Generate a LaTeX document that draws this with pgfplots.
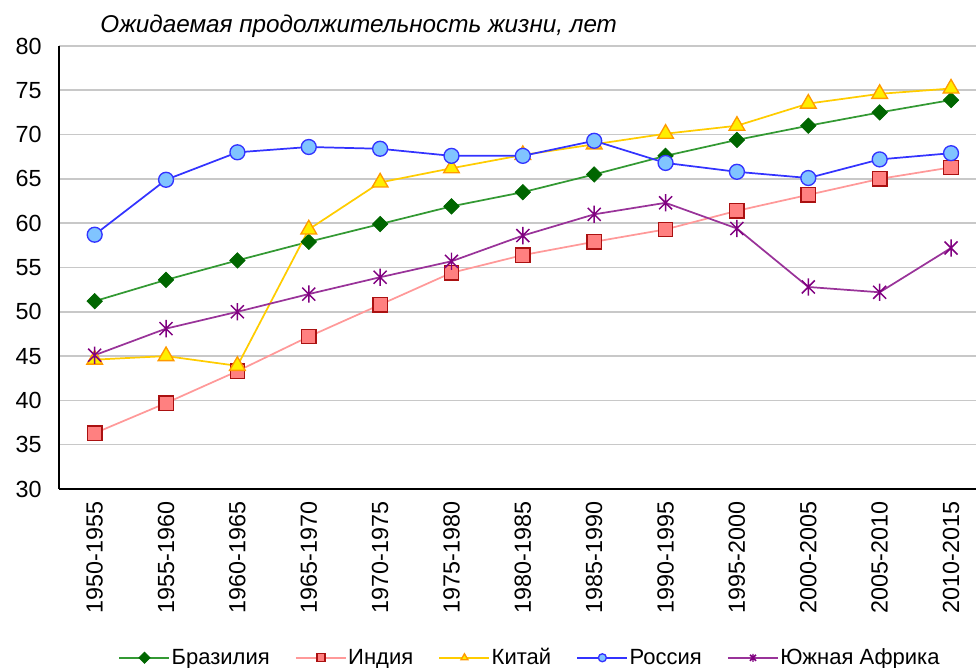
\documentclass[border=0pt]{standalone}
\usepackage{fontspec}
\setmainfont{Liberation Sans}
\usepackage{pgfplots}
\pgfplotsset{compat=1.18}

\definecolor{brline}{HTML}{339933}
\definecolor{brmark}{HTML}{006600}
\definecolor{inline}{HTML}{FF9999}
\definecolor{inmark}{HTML}{FF8080}
\definecolor{inedge}{HTML}{AA1111}
\definecolor{chline}{HTML}{FFCC00}
\definecolor{chmark}{HTML}{FFEE00}
\definecolor{chedge}{HTML}{FF9900}
\definecolor{ruline}{HTML}{3333FF}
\definecolor{rumark}{HTML}{80C4FF}
\definecolor{saline}{HTML}{993399}
\definecolor{samark}{HTML}{800080}
\definecolor{gridc}{HTML}{C8C8C8}

% star like vertical line plus an X
\pgfdeclareplotmark{xstar}{%
  \pgfpathmoveto{\pgfqpoint{0pt}{\pgfplotmarksize}}%
  \pgfpathlineto{\pgfqpoint{0pt}{-\pgfplotmarksize}}%
  \pgfpathmoveto{\pgfqpoint{-.75\pgfplotmarksize}{.75\pgfplotmarksize}}%
  \pgfpathlineto{\pgfqpoint{.75\pgfplotmarksize}{-.75\pgfplotmarksize}}%
  \pgfpathmoveto{\pgfqpoint{-.75\pgfplotmarksize}{-.75\pgfplotmarksize}}%
  \pgfpathlineto{\pgfqpoint{.75\pgfplotmarksize}{.75\pgfplotmarksize}}%
  \pgfusepathqstroke}

\begin{document}
\begin{tikzpicture}
\begin{axis}[
  name=ax,
  scale only axis,
  width=687.75pt,
  height=332.25pt,
  xmin=-0.5, xmax=12.35,
  ymin=30, ymax=80,
  ytick={30,35,...,80},
  xtick={0,...,12},
  xticklabels={1950-1955,1955-1960,1960-1965,1965-1970,1970-1975,1975-1980,1980-1985,1985-1990,1990-1995,1995-2000,2000-2005,2005-2010,2010-2015},
  axis x line*=bottom,
  axis y line*=left,
  axis line style={-, black, line width=1.4pt},
  major tick length=0pt,
  ymajorgrids,
  grid style={gridc, line width=1.2pt},
  /pgf/number format/assume math mode=true,
  tick label style={font=\fontsize{17.5}{20}\selectfont, black},
  yticklabel style={anchor=east, xshift=-9.5pt},
  xticklabel style={rotate=90, anchor=east, xshift=-6pt},
  legend columns=-1,
  legend style={at={(0.514,-0.381)}, anchor=center, draw=none, fill=none,
    font=\fontsize{16.5}{18}\selectfont,
    /tikz/every odd column/.append style={column sep=-1pt},
    /tikz/every even column/.append style={column sep=17pt}},
  legend image code/.code={%
    \draw[mark repeat=2,mark phase=2,#1,mark size=3pt] plot coordinates {(0cm,0cm) (0.66cm,0cm) (1.32cm,0cm)};},
  every axis plot/.append style={line width=1.3pt},
]
% Бразилия
\addplot[brline, mark=square*, mark size=4.1pt,
  mark options={rotate=45, fill=brmark, draw=brmark, line width=0.5pt}] coordinates {
  (0,51.2) (1,53.6) (2,55.8) (3,57.9) (4,59.9) (5,61.9) (6,63.5)
  (7,65.5) (8,67.6) (9,69.4) (10,71.0) (11,72.5) (12,73.9)
};
\addlegendentry{Бразилия}
% Индия
\addplot[inline, mark=square*, mark size=5.4pt,
  mark options={fill=inmark, draw=inedge, line width=1pt}] coordinates {
  (0,36.3) (1,39.7) (2,43.3) (3,47.2) (4,50.8) (5,54.4) (6,56.4)
  (7,57.9) (8,59.3) (9,61.4) (10,63.2) (11,65.0) (12,66.3)
};
\addlegendentry{Индия}
% Китай
\addplot[chline, mark=triangle*, mark size=6.8pt,
  mark options={fill=chmark, draw=chedge, line width=1pt}] coordinates {
  (0,44.6) (1,45.0) (2,43.9) (3,59.3) (4,64.6) (5,66.2) (6,67.7)
  (7,68.9) (8,70.1) (9,71.0) (10,73.5) (11,74.6) (12,75.2)
};
\addlegendentry{Китай}
% Россия
\addplot[ruline, mark=*, mark size=5.6pt,
  mark options={fill=rumark, draw=ruline, line width=1pt}] coordinates {
  (0,58.7) (1,64.9) (2,68.0) (3,68.6) (4,68.4) (5,67.6) (6,67.6)
  (7,69.3) (8,66.8) (9,65.8) (10,65.1) (11,67.2) (12,67.9)
};
\addlegendentry{Россия}
% Южная Африка
\addplot[saline, mark=xstar, mark size=6.5pt,
  mark options={draw=samark, line width=1.1pt}] coordinates {
  (0,45.1) (1,48.1) (2,50.0) (3,52.0) (4,53.9) (5,55.7) (6,58.6)
  (7,61.0) (8,62.3) (9,59.4) (10,52.8) (11,52.2) (12,57.2)
};
\addlegendentry{Южная Африка}
\end{axis}
\node[anchor=base west, font=\itshape\fontsize{18.2}{20}\selectfont]
  at ([shift={(27.5pt,9.75pt)}]ax.north west) {Ожидаемая продолжительность жизни, лет};
\pgfresetboundingbox
\path[use as bounding box] ([shift={(-44.25pt,-134.25pt)}]ax.south west)
  rectangle ([shift={(0pt,34.5pt)}]ax.north east);
\end{tikzpicture}
\end{document}
